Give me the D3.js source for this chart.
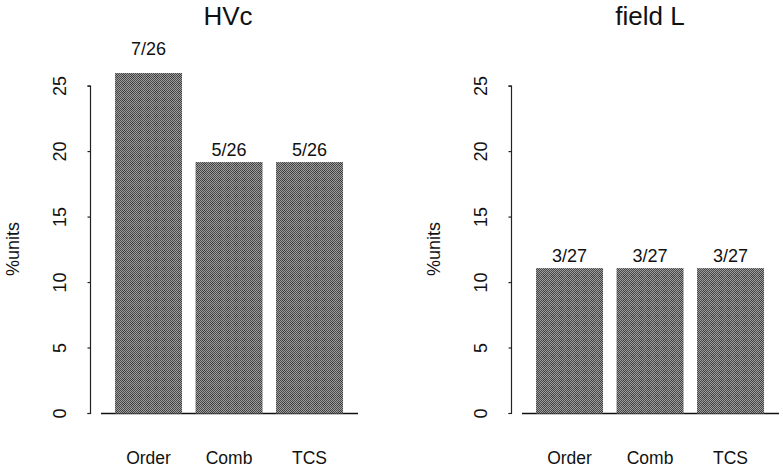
<!DOCTYPE html>
<html>
<head>
<meta charset="utf-8">
<script src="https://cdn.jsdelivr.net/npm/d3@7"></script>
<style>
  html, body { margin: 0; padding: 0; background: #fff; }
  svg { display: block; font-family: "Liberation Sans", Arial, Helvetica, sans-serif; }
</style>
</head>
<body>
<svg id="chart" width="783" height="467"></svg>
<script>
// ---- data ----
const categories = ["Order", "Comb", "TCS"];
const panelTitles = ["HVc", "field L"];
const hvcValues = [26.9, 19.2, 19.2];      // % units
const hvcLabels = ["7/26", "5/26", "5/26"];
const fieldLValues = [11.1, 11.1, 11.1];   // % units
const fieldLLabels = ["3/27", "3/27", "3/27"];
const yTicks = [0, 5, 10, 15, 20, 25];
const yLabel = "%units";

const svg = d3.select("#chart");

// dithered fill pattern
const defs = svg.append("defs");
const pat = defs.append("pattern")
  .attr("id", "dither").attr("patternUnits", "userSpaceOnUse")
  .attr("width", 8).attr("height", 8);
pat.append("rect").attr("width", 8).attr("height", 8).attr("fill", "#9c9c9c");
for (let i = 0; i < 8; i++) for (let j = 0; j < 8; j++) {
  if ((i + j) % 2 === 0) {
    const inCell = (i >= 2 && i <= 5 && j >= 2 && j <= 5);
    pat.append("rect").attr("x", i).attr("y", j).attr("width", 1).attr("height", 1)
      .attr("fill", inCell ? "#3a3a3a" : "#4a4a4a");
  }
}

const y = d3.scaleLinear().domain([0, 26]).range([413.5, 73]);

const panels = [
  { title: panelTitles[0], values: hvcValues, labels: hvcLabels, offset: 0, titleX: 228 },
  { title: panelTitles[1], values: fieldLValues, labels: fieldLLabels, offset: 421, titleX: 650 }
];

panels.forEach(p => {
  const g = svg.append("g").attr("transform", `translate(${p.offset},0)`);
  const x = d3.scaleBand().domain(categories)
    .range([108.3, 349.8]).paddingInner(0.168).paddingOuter(0.084);

  // clip region = plot region (bars clipped at ylim top)
  const clipId = "clip" + p.offset;
  defs.append("clipPath").attr("id", clipId)
    .append("rect").attr("x", p.offset + 90).attr("y", y(26))
    .attr("width", 270).attr("height", y(0) - y(26) + 1);

  svg.append("g").attr("clip-path", `url(#${clipId})`)
    .attr("transform", null)
    .append("g").attr("transform", `translate(${p.offset},0)`)
    .selectAll("rect").data(p.values).join("rect")
    .attr("x", (d, i) => x(categories[i]))
    .attr("width", x.bandwidth())
    .attr("y", d => y(d))
    .attr("height", d => y(0) - y(d))
    .attr("fill", "url(#dither)");

  // baseline
  g.append("line")
    .attr("x1", 101).attr("x2", 358)
    .attr("y1", y(0)).attr("y2", y(0))
    .attr("stroke", "#111").attr("stroke-width", 1.3);

  // y axis
  const axis = d3.axisLeft(y).tickValues(yTicks).tickSize(3).tickPadding(23);
  const ag = g.append("g").attr("transform", "translate(90.5,0)").call(axis);
  ag.select(".domain").attr("d", `M-3,${y(25)}H0V${y(0)}H-3`).attr("stroke", "#222").attr("stroke-width", 1.2);
  ag.selectAll(".tick line").attr("stroke", "#222").attr("stroke-width", 1.2);
  ag.selectAll(".tick text")
    .attr("font-size", 18).attr("fill", "#111")
    .attr("text-anchor", "middle")
    .attr("transform", d => `translate(-25,${y(d)}) rotate(-90)`)
    .attr("x", 0).attr("y", 0).attr("dy", "0")
    .attr("dominant-baseline", "auto");
  ag.selectAll(".tick").attr("transform", null);
  ag.selectAll(".tick line").attr("transform", d => `translate(0,${y(d)})`);
  ag.attr("font-family", null);

  // y label
  g.append("text")
    .attr("transform", `translate(19,249) rotate(-90)`)
    .attr("text-anchor", "middle").attr("font-size", 18).attr("fill", "#111")
    .text(yLabel);

  // value labels
  g.selectAll(".vlab").data(p.values).join("text")
    .attr("class", "vlab")
    .attr("x", (d, i) => x(categories[i]) + x.bandwidth() / 2)
    .attr("y", d => y(d) - 6)
    .attr("text-anchor", "middle").attr("font-size", 18).attr("fill", "#111")
    .text((d, i) => p.labels[i]);

  // category labels
  g.selectAll(".clab").data(categories).join("text")
    .attr("class", "clab")
    .attr("x", d => x(d) + x.bandwidth() / 2)
    .attr("y", 464)
    .attr("text-anchor", "middle").attr("font-size", 17.5).attr("fill", "#111")
    .text(d => d);

  // title
  svg.append("text")
    .attr("x", p.titleX).attr("y", 25)
    .attr("text-anchor", "middle").attr("font-size", 26).attr("fill", "#111")
    .text(p.title);
});
</script>
</body>
</html>
